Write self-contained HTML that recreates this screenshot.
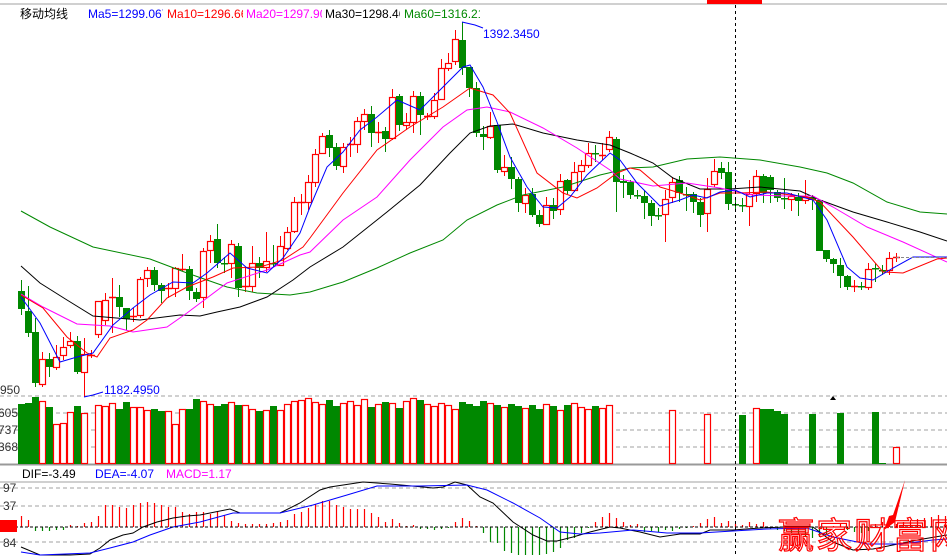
<!DOCTYPE html>
<html><head><meta charset="utf-8"><style>
html,body{margin:0;padding:0;background:#fff;}
svg{display:block;}
text{font-family:"Liberation Sans","Noto Sans CJK SC",sans-serif;}
</style></head><body>
<svg id="s" width="947" height="556" viewBox="0 0 947 556" xmlns="http://www.w3.org/2000/svg">
<defs>
<clipPath id="c1"><rect x="88" y="0" width="75" height="30"/></clipPath>
<clipPath id="c2"><rect x="167" y="0" width="76" height="30"/></clipPath>
<clipPath id="c3"><rect x="246" y="0" width="76" height="30"/></clipPath>
<clipPath id="c4"><rect x="325" y="0" width="75" height="30"/></clipPath>
<clipPath id="c5"><rect x="404" y="0" width="76" height="30"/></clipPath>
</defs>
<rect width="947" height="556" fill="#fff"/>
<line x1="0" y1="4" x2="947" y2="4" stroke="#a0a0a0" stroke-width="1"/>
<rect x="707" y="0" width="55" height="4" fill="#f00"/>
<text x="20" y="18" font-size="12" fill="#000">移动均线</text>
<text x="88" y="18" font-size="12" fill="#00f" clip-path="url(#c1)">Ma5=1299.0670</text>
<text x="167" y="18" font-size="12" fill="#f00" clip-path="url(#c2)">Ma10=1296.667</text>
<text x="246" y="18" font-size="12" fill="#f0f" clip-path="url(#c3)">Ma20=1297.908</text>
<text x="325" y="18" font-size="12" fill="#000" clip-path="url(#c4)">Ma30=1298.464</text>
<text x="404" y="18" font-size="12" fill="#080" clip-path="url(#c5)">Ma60=1316.214</text>
<g id="grid">
<line x1="0" y1="396" x2="947" y2="396" stroke="#a0a0a0" stroke-dasharray="4,3"/>
<line x1="0" y1="413" x2="947" y2="413" stroke="#a0a0a0" stroke-dasharray="4,3"/>
<line x1="0" y1="430" x2="947" y2="430" stroke="#a0a0a0" stroke-dasharray="4,3"/>
<line x1="0" y1="447" x2="947" y2="447" stroke="#a0a0a0" stroke-dasharray="4,3"/>
<line x1="0" y1="464.5" x2="947" y2="464.5" stroke="#999" stroke-width="2"/>
<line x1="0" y1="482" x2="947" y2="482" stroke="#a0a0a0" stroke-width="1"/>
<line x1="0" y1="488" x2="947" y2="488" stroke="#a0a0a0" stroke-dasharray="4,3"/>
<line x1="0" y1="506" x2="947" y2="506" stroke="#a0a0a0" stroke-dasharray="4,3"/>
<line x1="0" y1="542" x2="947" y2="542" stroke="#a0a0a0" stroke-dasharray="4,3"/>
</g>
<text x="0" y="394" font-size="12" fill="#333">950</text>
<text x="-2" y="417" font-size="12" fill="#333">605</text>
<text x="-2" y="434" font-size="12" fill="#333">737</text>
<text x="-2" y="451" font-size="12" fill="#333">368</text>
<text x="3" y="492" font-size="12" fill="#333">97</text>
<text x="3" y="510" font-size="12" fill="#333">37</text>
<text x="3" y="547" font-size="12" fill="#333">84</text>
<text x="22" y="478" font-size="12" fill="#000">DIF=-3.49</text>
<text x="95" y="478" font-size="12" fill="#00f">DEA=-4.07</text>
<text x="166" y="478" font-size="12" fill="#f0f">MACD=1.17</text>
<g id="g"></g>
<line x1="0" y1="527" x2="947" y2="527" stroke="#000" stroke-dasharray="3,2"/>
<rect x="0" y="520" width="17" height="12" fill="#f00"/>
<line x1="735.5" y1="5" x2="735.5" y2="556" stroke="#000" stroke-dasharray="3,3"/>
<polyline points="462,22 475,25 483,28" fill="none" stroke="#00f"/>
<text x="483" y="38" font-size="12" fill="#00f">1392.3450</text>
<polyline points="84,397 93,395 103,392" fill="none" stroke="#00f"/>
<text x="104" y="394" font-size="12" fill="#00f">1182.4950</text>
<polygon points="830,400 833,396 836,400" fill="#000"/>
<text x="778" y="548" font-size="36" fill="none" stroke="#f00" stroke-width="1.2" font-family="'Noto Serif CJK SC',serif" letter-spacing="2">赢家财富网</text>
<polygon points="905,480 895,522 884,530 889,516 893,515" fill="#f00"/>
</svg>
<script>
var g=document.getElementById('g'),NS='http://www.w3.org/2000/svg',h='';
function pl(pts,col){h+='<polyline fill="none" stroke="'+col+'" stroke-width="1" points="'+pts.map(function(p){return p.join(',')}).join(' ')+'"/>';}
// candles x,o,c,h,l,type
var C=[[21,291,309,280,315,'g'],[28,311,333,286,337,'g'],[35,332,383,318,387,'g'],[42,384,359,352,387,'r'],[49,359,367,353,377,'g'],[56,367,357,345,370,'r'],[63,355,347,337,360,'r'],[70,345,341,332,348,'r'],[77,341,372,336,374,'g'],[84,372,354,338,397,'r'],[91,355,355,350,358,'r'],[98,334,301,309,338,'r'],[105,320,300,293,325,'r'],[112,298,297,278,333,'r'],[119,297,307,285,317,'g'],[126,308,319,308,330,'g'],[133,317,316,308,322,'r'],[140,315,279,277,318,'r'],[147,278,270,267,287,'r'],[154,270,285,267,291,'g'],[161,285,291,283,303,'g'],[168,289,288,283,298,'r'],[175,288,268,267,297,'r'],[182,269,269,254,271,'r'],[189,269,291,266,300,'g'],[196,292,299,288,302,'g'],[203,297,251,248,308,'r'],[210,250,241,235,263,'r'],[217,239,263,224,268,'g'],[224,263,263,257,273,'g'],[231,263,244,240,278,'r'],[238,246,288,243,297,'g'],[245,286,286,267,292,'r'],[252,286,263,246,292,'r'],[259,263,268,257,278,'g'],[266,267,261,232,272,'r'],[273,263,263,245,267,'g'],[280,265,246,236,266,'r'],[287,248,232,227,250,'r'],[294,231,202,197,233,'r'],[301,202,202,194,215,'r'],[308,202,182,175,210,'r'],[315,182,154,149,187,'r'],[322,153,136,133,154,'r'],[329,135,148,130,157,'g'],[336,147,166,143,170,'g'],[343,166,147,143,173,'r'],[350,144,144,137,157,'r'],[357,144,121,117,153,'r'],[364,121,114,109,130,'r'],[371,114,133,106,147,'g'],[378,132,132,122,143,'r'],[385,131,139,127,152,'g'],[392,138,97,89,140,'r'],[399,96,125,94,131,'g'],[406,125,122,113,130,'r'],[413,122,96,91,133,'r'],[420,96,115,92,135,'g'],[427,116,116,113,120,'r'],[434,116,100,93,119,'r'],[441,99,68,59,100,'r'],[448,68,63,53,71,'r'],[455,61,39,30,65,'r'],[462,40,68,22,75,'g'],[469,67,88,67,97,'g'],[476,88,133,82,137,'g'],[483,134,137,126,150,'g'],[490,137,126,112,139,'r'],[497,125,170,125,173,'g'],[504,171,167,155,176,'r'],[511,167,179,157,189,'g'],[518,179,203,177,212,'g'],[525,203,195,188,213,'r'],[532,194,215,188,217,'g'],[539,215,224,210,227,'g'],[546,224,205,197,225,'r'],[553,205,211,198,219,'g'],[560,209,181,174,215,'r'],[567,180,191,179,194,'g'],[574,190,172,162,192,'r'],[581,171,165,160,183,'r'],[588,165,153,143,168,'r'],[595,153,153,145,162,'g'],[602,155,155,143,160,'r'],[609,149,137,131,152,'r'],[616,139,182,137,212,'g'],[623,181,183,175,198,'g'],[630,182,195,180,199,'g'],[637,195,195,190,199,'g'],[644,196,203,190,219,'g'],[651,203,216,200,226,'g'],[658,215,215,208,220,'g'],[665,214,199,190,242,'r'],[672,197,182,177,203,'r'],[679,180,193,176,202,'g'],[686,194,194,187,211,'g'],[693,194,202,192,213,'g'],[700,202,215,198,227,'g'],[707,213,189,178,232,'r'],[714,184,171,159,187,'r'],[721,168,173,162,179,'g'],[728,172,204,162,210,'g'],[735,204,204,197,210,'g'],[742,205,205,198,212,'g'],[749,206,194,180,226,'r'],[756,193,176,170,202,'r'],[763,176,193,174,203,'g'],[770,177,190,175,203,'g'],[777,192,198,190,202,'g'],[784,198,198,178,209,'g'],[791,199,196,193,211,'r'],[798,197,201,193,216,'g'],[805,200,197,180,204,'r'],[812,197,200,195,210,'g'],[819,200,251,200,251,'g'],[826,250,259,250,262,'g'],[833,259,264,258,273,'g'],[840,265,276,258,288,'g'],[847,276,287,275,290,'g'],[854,286,286,280,292,'r'],[861,286,286,282,290,'g'],[868,287,269,263,290,'r'],[875,268,268,263,282,'g'],[882,270,271,265,275,'g'],[889,270,258,252,275,'r'],[896,257,257,253,262,'r']];
C.forEach(function(c){var x=c[0],o=c[1],cl=c[2],t=Math.min(o,cl),b=Math.max(o,cl),col=c[5]=='r'?'#f00':'#080';
 if(c[5]=='r'){h+='<line x1="'+(x+.5)+'" y1="'+c[3]+'" x2="'+(x+.5)+'" y2="'+t+'" stroke="#f00"/><line x1="'+(x+.5)+'" y1="'+b+'" x2="'+(x+.5)+'" y2="'+c[4]+'" stroke="#f00"/>';
  if(b-t<1.5)h+='<line x1="'+(x-3)+'" y1="'+(t+.5)+'" x2="'+(x+4)+'" y2="'+(t+.5)+'" stroke="#f00" stroke-width="1.5"/>';
  else h+='<rect x="'+(x-2.5)+'" y="'+(t+.5)+'" width="6" height="'+(b-t)+'" fill="#fff" stroke="#f00" stroke-width="1.2"/>';}
 else{h+='<line x1="'+(x+.5)+'" y1="'+c[3]+'" x2="'+(x+.5)+'" y2="'+c[4]+'" stroke="#080"/>';
  h+='<rect x="'+(x-3)+'" y="'+t+'" width="7" height="'+Math.max(b-t,1.5)+'" fill="#080"/>';}});
pl([[21,211],[50,227],[93,247],[150,259],[187,273],[227,287],[257,293],[290,295],[310,292],[343,282],[377,268],[410,253],[443,240],[467,220],[497,205],[523,195],[563,187],[600,175],[630,168],[653,167],[687,159],[720,157],[760,160],[800,167],[827,173],[853,183],[887,202],[920,212],[947,214]],'#080');
pl([[21,266],[40,283],[67,300],[93,316],[140,320],[180,315],[200,316],[217,312],[240,307],[267,297],[293,280],[310,267],[343,247],[387,212],[420,185],[450,153],[470,133],[490,126],[513,124],[543,133],[577,140],[610,145],[630,153],[653,163],[673,178],[700,189],[730,189],[760,187],[800,191],[820,200],[853,212],[887,222],[920,232],[947,241]],'#000');
pl([[21,294],[43,307],[77,324],[110,326],[133,332],[167,327],[187,313],[227,283],[267,270],[300,255],[310,252],[343,220],[377,197],[410,160],[443,127],[467,110],[487,107],[510,112],[543,128],[577,148],[610,170],[620,179],[653,186],[687,183],[720,188],[753,195],[787,196],[813,196],[833,207],[867,227],[903,242],[947,262]],'#f0f');
pl([[21,295],[43,308],[67,337],[87,353],[97,357],[110,338],[133,330],[147,320],[167,298],[187,287],[213,277],[233,268],[260,267],[283,260],[303,247],[310,238],[343,193],[377,150],[410,127],[443,107],[470,88],[493,95],[510,113],[537,173],[563,193],[577,198],[597,188],[617,173],[630,168],[640,170],[660,187],[680,193],[700,200],[720,193],[740,193],[767,192],[807,197],[820,202],[853,237],[883,272],[903,273],[937,259],[947,258]],'#f00');
pl([[21,297],[40,323],[60,362],[77,357],[93,353],[113,325],[133,308],[150,295],[173,282],[193,283],[207,273],[230,253],[247,268],[267,273],[283,258],[300,233],[310,207],[327,167],[343,152],[360,130],[377,117],[397,100],[420,110],[443,87],[463,67],[470,65],[483,87],[497,122],[510,157],[527,187],[543,207],[557,208],[570,197],[587,175],[610,153],[620,160],[637,183],[647,193],[660,206],[680,200],[693,195],[707,198],[720,192],[735,190],[750,197],[767,193],[787,193],[813,200],[827,220],[847,267],[860,278],[873,280],[893,268],[913,257],[947,257]],'#00f');
h+='<line x1="896" y1="257.5" x2="947" y2="257.5" stroke="#888" stroke-dasharray="3,2"/>';
// volume
var V=[404,403,397,401,407,424,423,412,406,413,0,405,406,403,409,402,407,407,410,409,411,411,424,409,409,399,401,404,406,404,402,405,405,409,411,410,406,410,404,401,400,398];
var extra=[402,404,400,406,403,401,405,399,407,404,402,403,408,401,398,400,404,406,403,405,409,402,404,406,401,403,405,407,404,406,408,405,409,404,406,410,405,403,407,409,406,408,405,407,409];
C.forEach(function(c,i){var x=c[0],top;
 if(x<=609){top=i<V.length?V[i]:extra[(i-V.length)%extra.length];}else return;
 if(!top)return; var r=c[5]=='r';
 if(r)h+='<rect x="'+(x-2.5)+'" y="'+(top+.5)+'" width="6" height="'+(463-top)+'" fill="#fff" stroke="#f00" stroke-width="1.2"/>';
 else h+='<rect x="'+(x-3)+'" y="'+top+'" width="7" height="'+(464-top)+'" fill="#080"/>';});
[[672,410,'r'],[707,414,'r'],[742,415,'g'],[756,408,'r'],[763,409,'g'],[770,409,'g'],[777,411,'g'],[784,414,'g'],[805,463,'r'],[812,414,'g'],[840,413,'g'],[875,412,'g'],[882,463,'g'],[896,447,'r']].forEach(function(v){var x=v[0],top=v[1];
 if(v[2]=='r')h+='<rect x="'+(x-2.5)+'" y="'+(top+.5)+'" width="6" height="'+(463-top)+'" fill="#fff" stroke="#f00" stroke-width="1.2"/>';
 else h+='<rect x="'+(x-3)+'" y="'+top+'" width="7" height="'+(464-top)+'" fill="#080"/>';});
// macd bars
var M={21:516,28:520,35:531,42:531,49:531,56:530,63:530,70:525,77:526,84:523,91:522,98:516,105:505,112:505,119:507,126:508,133:505,140:503,147:502,154:503,161:505,168:507,175:507,182:512,189:514,196:512,203:512,210:514,217:512,224:515,231:521,238:523,245:524,252:524,259:524,266:524,273:523,280:522,287:520,294:514,301:512,308:508,315:504,322:501,329:501,336:505,343:507,350:509,357:509,364:509,371:513,378:517,385:522,392:519,399:523,406:526,413:525,420:529,427:529,434:530,441:529,448:528,455:522,462:518,469:521,476:526,483:533,490:542,497:543,504:551,511:553,518:555,525:555,532:555,539:555,546:554,553:552,560:548,567:540,574:538,581:533,588:528,595:522,602:517,609:513,616:518,623:522,630:525,637:524,644:532,651:531,658:532,665:530,672:531,679:529,686:528,693:526,700:523,707:519,714:517,721:523,728:521,735:524,742:525,749:522,756:524,763:522,770:529,777:530,784:531,791:533,798:535,805:536,812:538,819:537,826:534,833:526,840:524,847:530,854:532,861:533,868:531,875:524,882:522,889:521,896:524,903:522,910:520,917:519,924:518,931:517,938:515,945:516};
for(var k in M){var x=+k,y=M[k];if(y<527)h+='<line x1="'+(x+.5)+'" y1="'+y+'" x2="'+(x+.5)+'" y2="527" stroke="#f00" stroke-width="1.2"/>';else h+='<line x1="'+(x+.5)+'" y1="527" x2="'+(x+.5)+'" y2="'+y+'" stroke="#080" stroke-width="1.2"/>';}
pl([[21,547],[40,555],[70,555],[90,554],[100,548],[110,540],[123,535],[133,533],[143,527],[157,522],[173,518],[187,516],[200,515],[230,509],[240,513],[280,513],[300,503],[320,490],[330,487],[363,482],[390,484],[423,487],[433,488],[443,487],[455,482],[467,485],[480,497],[493,503],[513,522],[533,535],[547,541],[557,541],[573,537],[590,532],[610,527],[620,528],[640,532],[660,537],[680,534],[700,534],[710,530],[733,530],[760,528],[787,527],[813,527],[833,542],[853,550],[873,549],[893,545],[917,540],[947,535]],'#000');
pl([[21,552],[40,555],[90,553],[110,548],[133,542],[150,535],[173,527],[200,522],[233,513],[280,513],[313,505],[347,495],[377,486],[420,486],[467,485],[487,490],[513,503],[540,518],[560,532],[580,534],[600,533],[633,530],[667,533],[700,533],[733,531],[767,529],[807,528],[833,537],[867,544],[900,544],[933,540],[947,539]],'#00f');
g.innerHTML=h;
</script>
</body></html>
